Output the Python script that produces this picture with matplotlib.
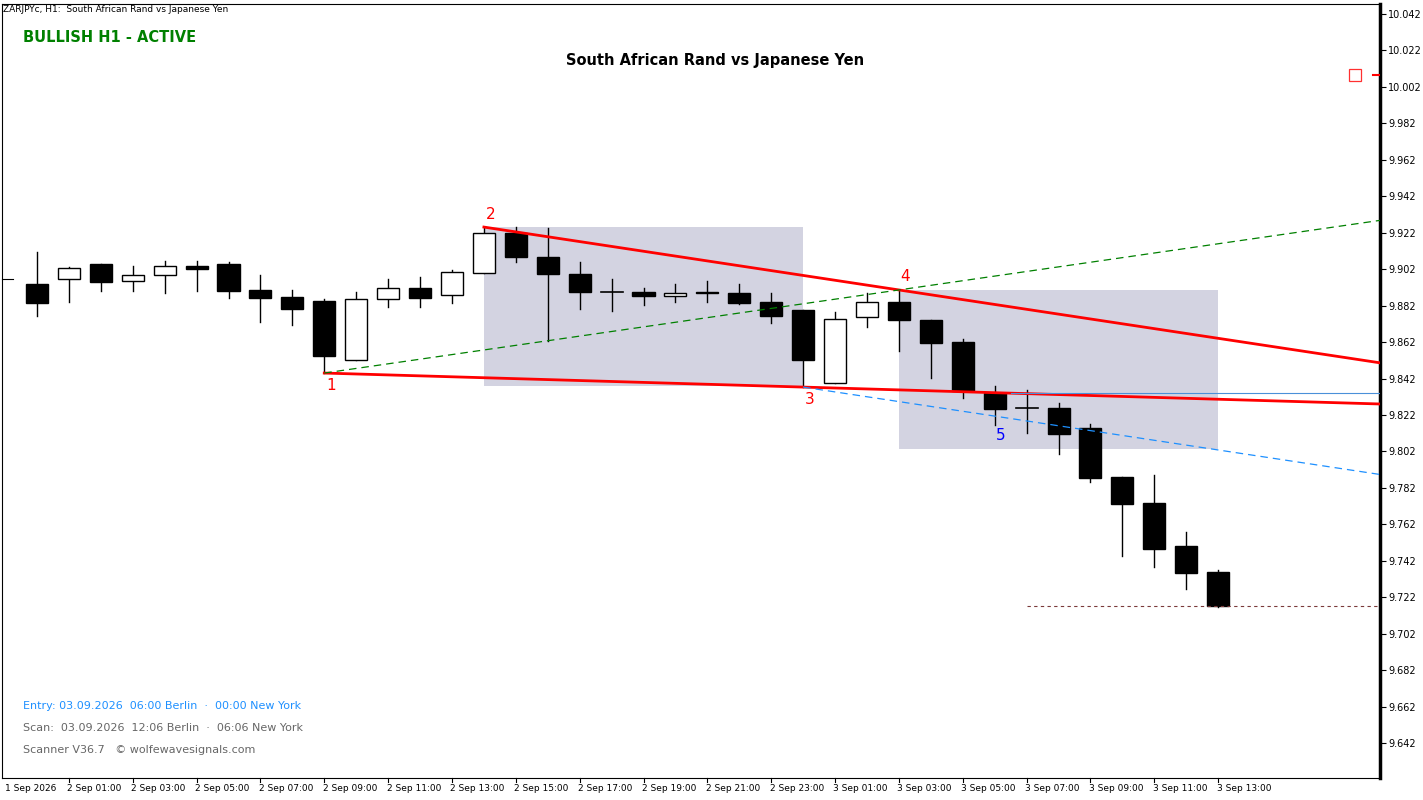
import matplotlib
matplotlib.use("Agg")
import matplotlib.pyplot as plt
import matplotlib.transforms as mtransforms
from matplotlib.patches import Rectangle

# hourly bars, 2 Sep 2026 00:00 .. 3 Sep 2026 13:00
opens = [9.8938, 9.8966, 9.9048, 9.8955, 9.8988, 9.9037, 9.9048, 9.8906, 9.8867, 9.8845,
         9.8521, 9.8856, 9.8916, 9.8878, 9.8999, 9.9218, 9.9087, 9.8993, 9.8895, 9.8895,
         9.8873, 9.8895, 9.8889, 9.8840, 9.8796, 9.8395, 9.8757, 9.8840, 9.8741, 9.8620,
         9.8340, 9.8258, 9.8258, 9.8148, 9.7880, 9.7737, 9.7501, 9.7358]
highs = [9.9114, 9.9030, 9.9048, 9.9037, 9.9065, 9.9065, 9.9059, 9.8988, 9.8906, 9.8856,
         9.8895, 9.8966, 9.8977, 9.9015, 9.9251, 9.9251, 9.9246, 9.9059, 9.8966, 9.8916,
         9.8938, 9.8955, 9.8938, 9.8889, 9.8796, 9.8785, 9.8889, 9.8906, 9.8741, 9.8637,
         9.8379, 9.8357, 9.8285, 9.8170, 9.7880, 9.7891, 9.7578, 9.7369]
lows = [9.8763, 9.8840, 9.8900, 9.8900, 9.8889, 9.8900, 9.8862, 9.8730, 9.8714, 9.8450,
        9.8521, 9.8812, 9.8812, 9.8834, 9.8999, 9.9059, 9.8626, 9.8801, 9.8790, 9.8823,
        9.8840, 9.8840, 9.8829, 9.8725, 9.8373, 9.8395, 9.8703, 9.8571, 9.8423, 9.8313,
        9.8165, 9.8121, 9.8006, 9.7852, 9.7446, 9.7386, 9.7265, 9.7166]
closes = [9.8834, 9.9026, 9.8950, 9.8988, 9.9037, 9.9021, 9.8900, 9.8862, 9.8801, 9.8543,
          9.8856, 9.8916, 9.8862, 9.9004, 9.9218, 9.9087, 9.8993, 9.8895, 9.8892, 9.8873,
          9.8889, 9.8889, 9.8834, 9.8763, 9.8521, 9.8746, 9.8840, 9.8741, 9.8615, 9.8351,
          9.8253, 9.8258, 9.8115, 9.7874, 9.7731, 9.7484, 9.7353, 9.7172]

# wolfe wave pivots (bar index, price)
pivot_idx = [9, 14, 24, 27, 30]
pivot_px = [9.8450, 9.9251, 9.8373, 9.8906, 9.8174]
pivot_names = ["1", "2", "3", "4", "5"]

box1 = (14, 24, 9.8379, 9.9251)
box2 = (27, 37, 9.8033, 9.8906)
level_blue = 9.8340
level_red = 9.7172

price_ticks = [9.642 + 0.02 * k for k in range(21)]

X0, X1 = -1.095, 42.07
Y0, Y1 = 9.6228, 10.0475

fig = plt.figure(figsize=(14.23, 8.0), dpi=100)
ax = fig.add_axes([2 / 1423, 22 / 800, 1378 / 1423, 774 / 800])
ax.set_xlim(X0, X1)
ax.set_ylim(Y0, Y1)

# shaded zones
for a, b, lo, hi in (box1, box2):
    ax.add_patch(Rectangle((a, lo), b - a, hi - lo, facecolor="#d3d3e1", edgecolor="none", zorder=1))

# candles
w = 0.69
for i, (o, h, l, c) in enumerate(zip(opens, highs, lows, closes)):
    ax.plot([i, i], [l, h], color="black", lw=1, zorder=3)
    top, bot = max(o, c), min(o, c)
    face = "white" if c > o else "black"
    if top - bot < 0.0004:
        ax.plot([i - w / 2, i + w / 2], [o, o], color="black", lw=1.2, zorder=4)
    else:
        ax.add_patch(Rectangle((i - w / 2, bot), w, top - bot, facecolor=face,
                               edgecolor="black", lw=1, zorder=4))


def extend(i_a, p_a, slope):
    return [i_a, X1], [p_a, p_a + slope * (X1 - i_a)]


s13 = (pivot_px[2] - pivot_px[0]) / (pivot_idx[2] - pivot_idx[0])
s24 = (pivot_px[3] - pivot_px[1]) / (pivot_idx[3] - pivot_idx[1])
s14 = (pivot_px[3] - pivot_px[0]) / (pivot_idx[3] - pivot_idx[0])

ax.plot(*extend(pivot_idx[0], pivot_px[0], s13), color="red", lw=2, zorder=5)
ax.plot(*extend(pivot_idx[1], pivot_px[1], s24), color="red", lw=2, zorder=5)
ax.plot(*extend(pivot_idx[0], pivot_px[0], s14), color="green", lw=0.9, ls=(0, (6, 4)), zorder=5)
ax.plot(*extend(pivot_idx[2], pivot_px[2], s24), color="#1e90ff", lw=0.9, ls=(0, (6, 4)), zorder=5)
ax.plot([30.5, X1], [level_blue, level_blue], color="#4a90d9", lw=0.8, zorder=5)
ax.plot([31, X1], [level_red, level_red], color="#7a3a3a", lw=0.8, ls=(0, (3, 3)), zorder=5)

for i, p, n in zip(pivot_idx, pivot_px, pivot_names):
    col = "blue" if n == "5" else "red"
    if n in ("2", "4"):
        ax.text(i + 0.2, p + 0.003, n, color=col, fontsize=11, ha="center", va="bottom")
    else:
        ax.text(i + 0.2, p - 0.0025, n, color=col, fontsize=11, ha="center", va="top")

# marker top right
ax.add_patch(Rectangle((41.1, 10.0052), 0.37, 0.0066, facecolor="none", edgecolor="#ff3030", lw=0.9, zorder=6))
ax.plot([41.85, X1], [10.0085, 10.0085], color="red", lw=1.5, zorder=6)

# axes style
for sp in ax.spines.values():
    sp.set_linewidth(0.8)
ax.spines["right"].set_linewidth(2.5)
ax.yaxis.tick_right()
ax.set_yticks(price_ticks)
ax.set_yticklabels([f"{t:.3f}" for t in price_ticks], fontsize=7)
ax.tick_params(axis="y", direction="out", length=4, pad=2)
ax.set_xticks([])
ax.plot([X0, X0 + 0.35], [9.8966, 9.8966], color="black", lw=0.8, clip_on=False)

trans = mtransforms.blended_transform_factory(ax.transData, ax.transAxes)
ax.text(-1, -0.014, "1 Sep 2026", fontsize=6.5, ha="left", va="center", transform=trans)
for i in range(1, 38, 2):
    day, hr = (2, i) if i < 24 else (3, i - 24)
    ax.text(i - 0.05, -0.014, f"{day} Sep {hr:02d}:00", fontsize=6.5, ha="left", va="center", transform=trans)
    ax.plot([i, i], [0, -0.005], color="black", lw=0.8, transform=trans, clip_on=False)

fig.text(3 / 1423, 1 - 9 / 800, "ZARJPYc, H1:  South African Rand vs Japanese Yen", fontsize=6.5, va="center")
fig.text(23 / 1423, 1 - 37 / 800, "BULLISH H1 - ACTIVE", fontsize=10.5, color="green", weight="bold", va="center")
fig.text(715 / 1423, 1 - 61 / 800, "South African Rand vs Japanese Yen", fontsize=10.5, weight="bold",
         ha="center", va="center")
fig.text(23 / 1423, 1 - 706 / 800, "Entry: 03.09.2026  06:00 Berlin  \u00b7  00:00 New York", fontsize=8,
         color="#1e90ff", va="center")
fig.text(23 / 1423, 1 - 728 / 800, "Scan:  03.09.2026  12:06 Berlin  \u00b7  06:06 New York", fontsize=8,
         color="#666666", va="center")
fig.text(23 / 1423, 1 - 750 / 800, "Scanner V36.7   \u00a9 wolfewavesignals.com", fontsize=8,
         color="#666666", va="center")

fig.savefig("out.png", dpi=100)
